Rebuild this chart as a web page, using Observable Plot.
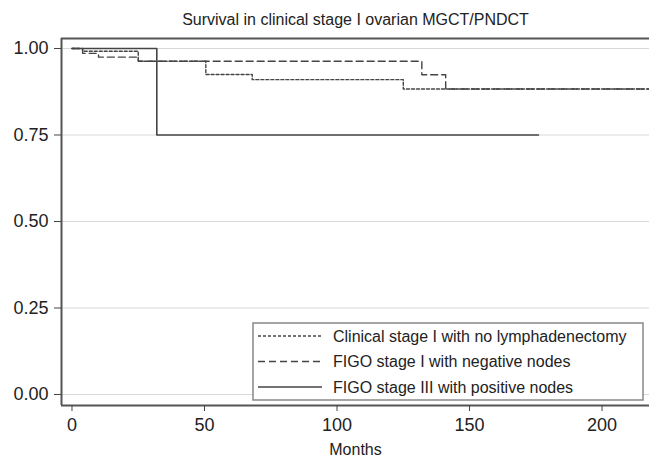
<!DOCTYPE html>
<html><head><meta charset="utf-8">
<script src="https://cdn.jsdelivr.net/npm/d3@7"></script>
<script src="https://cdn.jsdelivr.net/npm/@observablehq/plot@0.6"></script>
<style>body{margin:0;background:#fff;font-family:"Liberation Sans",Arial,sans-serif}</style>
</head><body><div id="chart"></div>
<script>
const title = "Survival in clinical stage I ovarian MGCT/PNDCT";
const xLabel = "Months";
const seriesNames = ["Clinical stage I with no lymphadenectomy", "FIGO stage I with negative nodes", "FIGO stage III with positive nodes"];
const clinicalMonths = [0, 4, 25, 50.5, 68, 125, 218];
const clinicalSurv   = [1, 0.992, 0.963, 0.925, 0.91, 0.883, 0.883];
const negMonths = [0, 4, 10, 25, 132, 141, 218];
const negSurv   = [1, 0.986, 0.975, 0.963, 0.924, 0.883, 0.883];
const posMonths = [0, 32, 176];
const posSurv   = [1, 0.75, 0.75];
const xTicks = [0, 50, 100, 150, 200];
const yTicks = [0, 0.25, 0.5, 0.75, 1];
const xDomain = [-3.96, 217.9];
const yDomain = [-0.0318, 1.0289];

const toRows = (ms, ss) => ms.map((m, i) => ({month: m, surv: ss[i]}));
const clinical = toRows(clinicalMonths, clinicalSurv);
const neg = toRows(negMonths, negSurv);
const pos = toRows(posMonths, posSurv);
const dashes = ["3,2", "7,4", null];
const lineColor = "#454545";

const plot = Plot.plot({
  width: 649, height: 461,
  marginLeft: 61, marginRight: 0, marginTop: 38, marginBottom: 56,
  style: {fontFamily: '"Liberation Sans", Arial, sans-serif', fontSize: "15px", color: "#222", background: "#fff"},
  x: {domain: xDomain},
  y: {domain: yDomain},
  marks: [
    Plot.gridY(yTicks, {stroke: "#d8d8d8", strokeOpacity: 1, strokeWidth: 1}),
    Plot.line(clinical, {x: "month", y: "surv", curve: "step-after", stroke: lineColor, strokeWidth: 1.4, strokeDasharray: dashes[0]}),
    Plot.line(neg, {x: "month", y: "surv", curve: "step-after", stroke: lineColor, strokeWidth: 1.4, strokeDasharray: dashes[1]}),
    Plot.line(pos, {x: "month", y: "surv", curve: "step-after", stroke: lineColor, strokeWidth: 1.6}),
    Plot.ruleX([xDomain[0]], {stroke: "#555", strokeWidth: 2}),
    Plot.ruleY([yDomain[0], yDomain[1]], {stroke: "#555", strokeWidth: 2}),
    Plot.axisX(xTicks, {tickSize: 6, tickPadding: 7, stroke: "#444", label: null, fontSize: 18}),
    Plot.axisY(yTicks, {tickSize: 7, tickPadding: 6, stroke: "#444", label: null, tickFormat: d3.format(".2f"), fontSize: 18}),
    Plot.text([title], {frameAnchor: "top", dy: -25, fontSize: 16, fill: "#222"}),
    Plot.text([xLabel], {frameAnchor: "bottom", dy: 49, fontSize: 16, fill: "#222"})
  ]
});
document.getElementById("chart").appendChild(plot);

// legend inside plot
const svg = d3.select(plot);
const lg = svg.append("g").attr("font-family", '"Liberation Sans", Arial, sans-serif').attr("font-size", 16).attr("text-anchor", "start");
lg.append("rect").attr("x", 253).attr("y", 323).attr("width", 390).attr("height", 77)
  .attr("fill", "#fff").attr("stroke", "#888").attr("stroke-width", 1.5);
seriesNames.forEach((name, i) => {
  const cy = 336 + i * 25.5;
  const ln = lg.append("line").attr("x1", 258).attr("x2", 322).attr("y1", cy).attr("y2", cy)
    .attr("stroke", lineColor).attr("stroke-width", i === 2 ? 1.6 : 1.4);
  if (dashes[i]) ln.attr("stroke-dasharray", dashes[i]);
  lg.append("text").attr("x", 333).attr("y", cy).attr("dy", "0.35em").attr("text-anchor", "start").attr("fill", "#222").text(name);
});
</script></body></html>
